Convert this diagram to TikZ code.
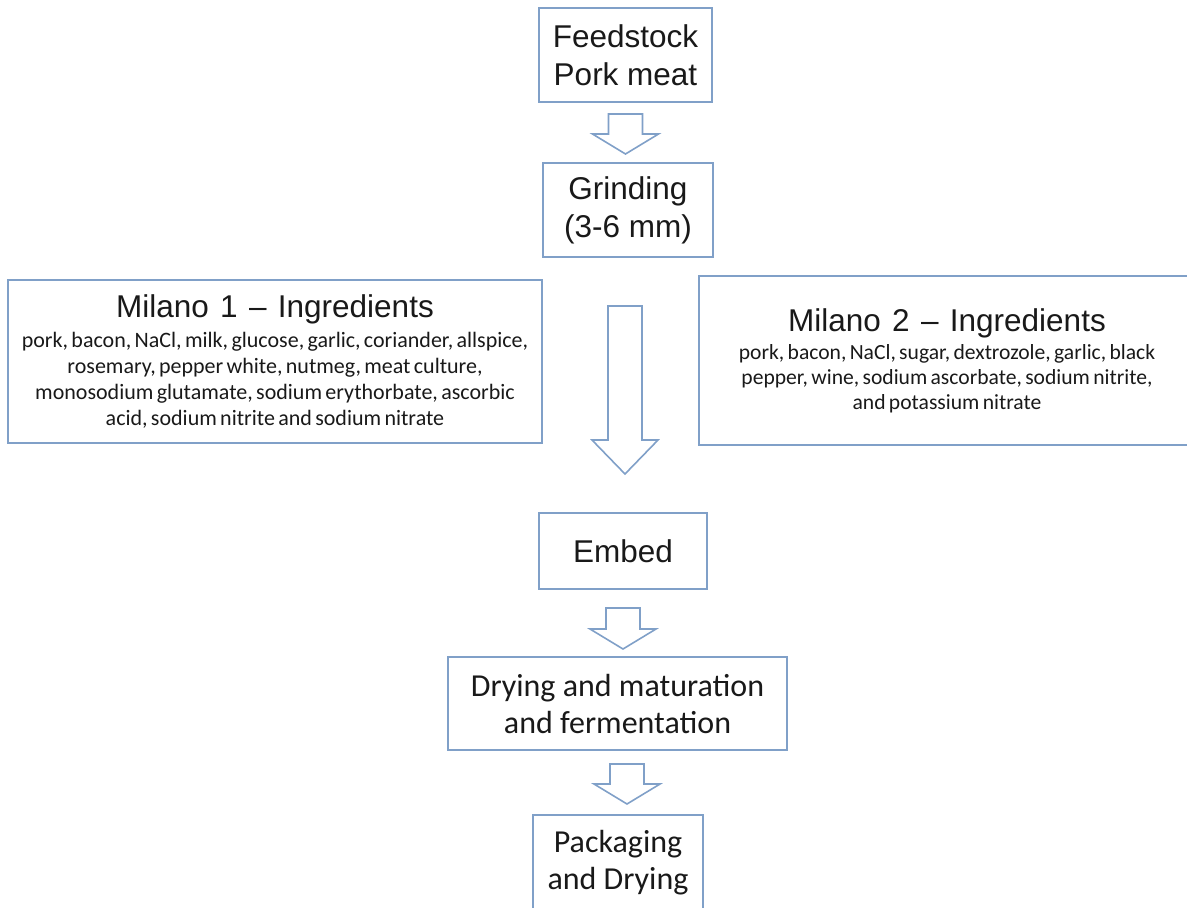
\documentclass[tikz,border=0pt]{standalone}
\usepackage{fontspec}
\setmainfont{Liberation Sans}
\newfontfamily\calibri{Carlito}
\usetikzlibrary{calc}
\definecolor{boxblue}{RGB}{128,160,200}
\definecolor{inkgray}{RGB}{25,25,25}
% #1 start point, #2 shaft length, #3 head length
\newcommand{\hollowarrow}[3]{%
  \draw[hollow] (#1) ++(-17,0) -- ++(34,0) -- ++(0,#2) -- ++(16,0) -- ++(-33,#3) -- ++(-33,-#3) -- ++(16,0) -- cycle;}
\newcommand{\gap}{\hspace{0.36em}}

\begin{document}
\begin{tikzpicture}[x=1pt, y=-1pt,
        stepbox/.style={rectangle, draw=boxblue, line width=2pt, inner sep=0pt, align=center, text=inkgray},
        bigtext/.style={font=\fontsize{31.5}{38}\selectfont},
        lighttext/.style={font=\calibri\fontsize{32}{37}\selectfont},
        hollow/.style={draw=boxblue, line width=1.6pt, line join=miter},
        ]
        \clip (0,0) rectangle (1187,908);

        \node (feed) at (625.5,55) [stepbox, bigtext, minimum width=173, minimum height=94] {Feedstock\\Pork meat};
        \node (grind) at (628,210) [stepbox, bigtext, minimum width=170, minimum height=94] {Grinding\\(3-6 mm)};
        \node (milanoA) at (275,361.5) [stepbox, text width=534, minimum height=163] {%
            {\fontsize{31.5}{36}\selectfont Milano\gap 1\gap --\gap Ingredients\par}\vskip 4pt
            {\calibri\fontsize{22}{26}\selectfont pork, bacon, NaCl, milk, glucose, garlic, coriander, allspice,\\
            rosemary, pepper white, nutmeg, meat culture,\\
            monosodium glutamate, sodium erythorbate, ascorbic\\
            acid, sodium nitrite and sodium nitrate\par}};
        \node (milanoB) at (947,360.5) [stepbox, text width=496, minimum height=169] {%
            {\fontsize{31.5}{36}\selectfont Milano\gap 2\gap --\gap Ingredients\par}\vskip 3pt
            {\calibri\fontsize{21.6}{25}\selectfont pork, bacon, NaCl, sugar, dextrozole, garlic, black\\
            pepper, wine, sodium ascorbate, sodium nitrite,\\
            and potassium nitrate\par}};
        \node (embed) at (623,551) [stepbox, bigtext, minimum width=168, minimum height=76] {Embed};
        \node (dry) at (617.5,703.5) [stepbox, lighttext, minimum width=339, minimum height=93] {Drying and maturation\\and fermentation};
        \node (pack) at (618,862.5) [stepbox, lighttext, minimum width=170, minimum height=95] {Packaging\\and Drying};

        \hollowarrow{$(feed.south)+(0,11)$}{20}{20}
        \hollowarrow{$(grind.south)+(-3,48)$}{134}{34}
        \hollowarrow{$(embed.south)+(0,18)$}{21}{20}
        \hollowarrow{$(dry.south)+(9.5,13)$}{20}{20}

    \end{tikzpicture}
\end{document}
